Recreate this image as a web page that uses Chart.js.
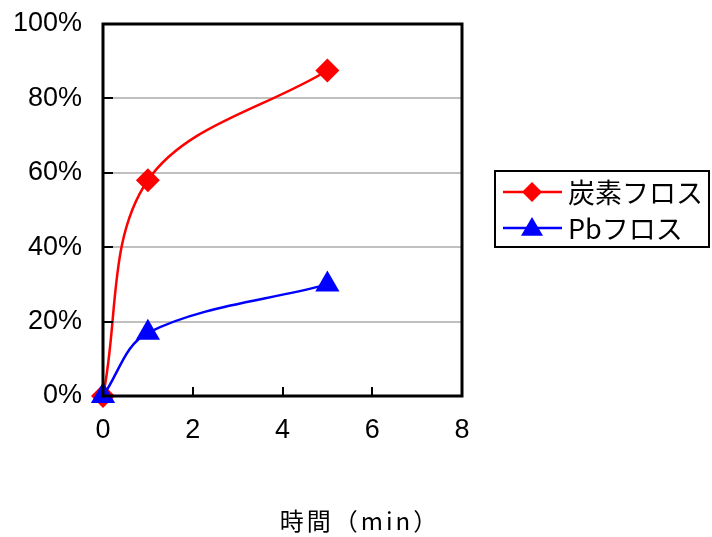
<!DOCTYPE html>
<html>
<head>
<meta charset="utf-8">
<script src="https://cdn.jsdelivr.net/npm/chart.js@4/dist/chart.umd.min.js"></script>
<style>
  html, body { margin: 0; padding: 0; background: #fff; }
  #wrap { width: 712px; height: 537px; }
</style>
</head>
<body>
<div id="wrap"><canvas id="c" width="712" height="537"></canvas></div>
<script>
// Elapsed time (min) and recovered fraction (%) for each dross type
const timesMin = [0, 1, 5];
const carbonDross = [0, 58, 87.5];
const pbDross = [0, 17, 30];
const seriesNames = ['炭素フロス', 'Pbフロス'];
const xTicks = [0, 2, 4, 6, 8];
const yTicks = [0, 20, 40, 60, 80, 100];
const xAxisTitle = '時間（min）';

const LATIN = '"Liberation Sans", Arial, sans-serif';
const CJK = '"Noto Sans CJK JP", "Noto Sans", sans-serif';

function toPoints(xs, ys) {
  return xs.map((x, i) => ({ x: x, y: ys[i] }));
}

// Black frame around the plot area plus short inward tick marks
const frameAndTicks = {
  id: 'frameAndTicks',
  afterDatasetsDraw(chart) {
    const { ctx, chartArea: a, scales } = chart;
    ctx.save();
    ctx.strokeStyle = '#000';
    ctx.lineWidth = 2;
    ctx.beginPath();
    yTicks.forEach(v => {
      const y = Math.round(scales.y.getPixelForValue(v));
      ctx.moveTo(a.left, y);
      ctx.lineTo(a.left + 10, y);
    });
    xTicks.forEach(v => {
      const x = Math.round(scales.x.getPixelForValue(v));
      ctx.moveTo(x, a.bottom);
      ctx.lineTo(x, a.bottom - 9);
    });
    ctx.stroke();
    ctx.lineWidth = 3;
    ctx.strokeRect(a.left, a.top, a.right - a.left, a.bottom - a.top);
    ctx.restore();
  }
};

function drawMarker(ctx, style, x, y, r, color) {
  ctx.fillStyle = color;
  ctx.beginPath();
  if (style === 'rectRot') {
    ctx.moveTo(x, y - r);
    ctx.lineTo(x + r, y);
    ctx.lineTo(x, y + r);
    ctx.lineTo(x - r, y);
  } else {
    ctx.moveTo(x, y - r);
    ctx.lineTo(x + r, y + r * 0.7);
    ctx.lineTo(x - r, y + r * 0.7);
  }
  ctx.closePath();
  ctx.fill();
}

// Boxed legend to the right of the plot
const boxedLegend = {
  id: 'boxedLegend',
  afterDraw(chart) {
    const ctx = chart.ctx;
    const a = chart.chartArea;
    const bx = a.right + 33, by = 171, bw = 214, bh = 76;
    ctx.save();
    ctx.strokeStyle = '#000';
    ctx.lineWidth = 2;
    ctx.strokeRect(bx, by, bw, bh);
    const rows = [by + 21, by + 57];
    chart.data.datasets.forEach((ds, i) => {
      const y = rows[i];
      ctx.strokeStyle = ds.borderColor;
      ctx.lineWidth = 2.5;
      ctx.beginPath();
      ctx.moveTo(bx + 8, y);
      ctx.lineTo(bx + 67, y);
      ctx.stroke();
      drawMarker(ctx, ds.pointStyle, bx + 37, y, ds.pointStyle === 'rectRot' ? 10 : 11, ds.pointBackgroundColor);
      ctx.fillStyle = '#000';
      ctx.font = '27px ' + CJK;
      ctx.textBaseline = 'middle';
      ctx.textAlign = 'left';
      ctx.fillText(ds.label, bx + 73, y + 1);
    });
    ctx.restore();
  }
};

// Axis title centred under the whole figure
const bottomTitle = {
  id: 'bottomTitle',
  afterDraw(chart) {
    const ctx = chart.ctx;
    ctx.save();
    ctx.fillStyle = '#000';
    ctx.font = '24px ' + CJK;
    ctx.letterSpacing = '3px';
    ctx.textAlign = 'center';
    ctx.textBaseline = 'middle';
    ctx.fillText(xAxisTitle, chart.width / 2 + 4, 521);
    ctx.restore();
  }
};

new Chart(document.getElementById('c'), {
  type: 'scatter',
  data: {
    datasets: [
      {
        label: seriesNames[0],
        data: toPoints(timesMin, carbonDross),
        showLine: true,
        borderColor: '#ff0000',
        backgroundColor: '#ff0000',
        pointBackgroundColor: '#ff0000',
        pointBorderColor: '#ff0000',
        pointStyle: 'rectRot',
        pointRadius: 12,
        pointBorderWidth: 0,
        borderWidth: 2.5,
        tension: 0.35,
        clip: false,
        order: 1
      },
      {
        label: seriesNames[1],
        data: toPoints(timesMin, pbDross),
        showLine: true,
        borderColor: '#0000ff',
        backgroundColor: '#0000ff',
        pointBackgroundColor: '#0000ff',
        pointBorderColor: '#0000ff',
        pointStyle: 'triangle',
        pointRadius: 14,
        pointBorderWidth: 0,
        borderWidth: 2.5,
        tension: 0.35,
        clip: false,
        order: 0
      }
    ]
  },
  options: {
    responsive: false,
    animation: false,
    events: [],
    layout: { padding: { top: 24, right: 250, bottom: 0, left: 0 } },
    plugins: {
      legend: { display: false },
      tooltip: { enabled: false },
      title: { display: false }
    },
    scales: {
      x: {
        type: 'linear',
        min: 0,
        max: 8,
        afterFit(scale) { scale.height = 141; scale.paddingLeft = 0; scale.paddingRight = 0; },
        afterBuildTicks(scale) { scale.ticks = xTicks.map(v => ({ value: v })); },
        grid: { display: false, drawTicks: false },
        border: { display: false },
        ticks: {
          color: '#000',
          font: { family: LATIN, size: 27 },
          padding: 18,
          maxRotation: 0
        }
      },
      y: {
        type: 'linear',
        min: 0,
        max: 100,
        afterFit(scale) { scale.width = 103; scale.paddingTop = 0; scale.paddingBottom = 0; },
        afterBuildTicks(scale) { scale.ticks = yTicks.map(v => ({ value: v })); },
        grid: {
          drawTicks: false,
          lineWidth: 2,
          color: ctx => (ctx.tick && (ctx.tick.value === 0 || ctx.tick.value === 100)) ? 'rgba(0,0,0,0)' : '#c0c0c0'
        },
        border: { display: false },
        ticks: {
          color: '#000',
          font: { family: LATIN, size: 27 },
          padding: 21,
          callback: v => v + '%'
        }
      }
    }
  },
  plugins: [frameAndTicks, boxedLegend, bottomTitle]
});
</script>
</body>
</html>
